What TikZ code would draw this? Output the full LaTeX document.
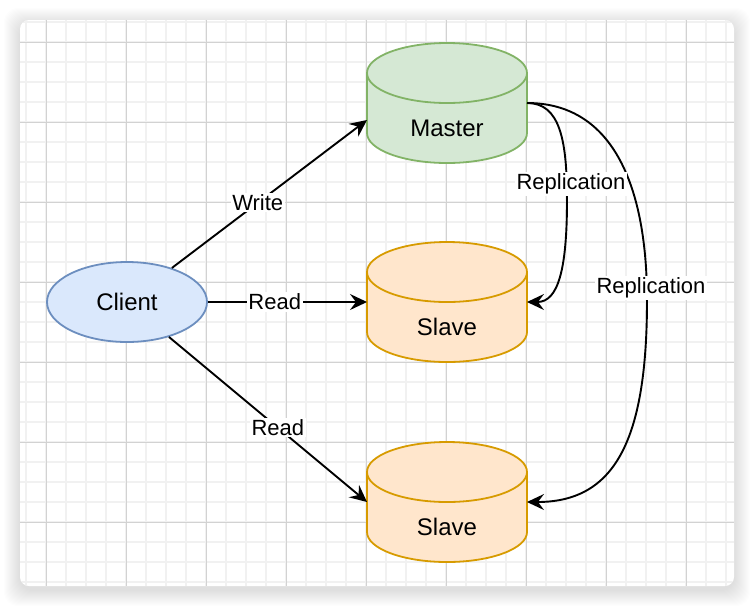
\documentclass[tikz,border=0pt]{standalone}
\usepackage{fontspec}
\setmainfont{Liberation Sans}
\usetikzlibrary{arrows.meta,shapes.geometric}
\definecolor{gridmajor}{HTML}{D2D2D2}
\definecolor{gridminor}{HTML}{F1F1F1}
\definecolor{masterfill}{HTML}{D5E8D4}
\definecolor{masterline}{HTML}{82B366}
\definecolor{slavefill}{HTML}{FFE6CC}
\definecolor{slaveline}{HTML}{D79B00}
\definecolor{clientfill}{HTML}{DAE8FC}
\definecolor{clientline}{HTML}{6C8EBF}
\newcommand\dbcyl[3]{%
  \filldraw[fill=#2, draw=#3, line width=1.8pt]
    ([yshift=-30pt]#1.north west) -- ([yshift=30pt]#1.south west)
    arc[start angle=180, end angle=360, x radius=80pt, y radius=30pt]
    -- ([yshift=-30pt]#1.north east)
    arc[start angle=0, end angle=180, x radius=80pt, y radius=30pt] -- cycle;
  \draw[draw=#3, line width=1.8pt] ([yshift=-30pt]#1.north west)
    arc[start angle=180, end angle=360, x radius=80pt, y radius=30pt];
}
\tikzset{
  cylbox/.style={rectangle, minimum width=160pt, minimum height=120pt, inner sep=0pt, outer sep=0pt},
  nodetext/.style={font=\fontsize{24}{28}\selectfont, inner sep=0pt},
  edge/.style={line width=1.9pt, -{Stealth[length=17pt,width=16pt,inset=6pt]}},
  lbl/.style={fill=white, inner sep=1.5pt, font=\fontsize{22}{26}\selectfont},
}
\begin{document}
\begin{tikzpicture}[x=1pt,y=-1pt]
\useasboundingbox (0,0) rectangle (754,606);
\fill[white] (0,0) rectangle (754,606);
% shadow
\foreach \i in {1,...,16}{
  \fill[black, opacity=0.008, rounded corners=14pt] ({20-\i},{24-\i}) rectangle ({734+\i},{590+\i});
}
\fill[white, rounded corners=9pt] (20,20) rectangle (734,586);
% grid
\begin{scope}
\clip[rounded corners=9pt] (20,20) rectangle (734,586);
\foreach \x in {26,46,...,726} \draw[gridminor, line width=1.6pt] (\x,20) -- (\x,586);
\foreach \y in {22,42,...,582} \draw[gridminor, line width=1.6pt] (20,\y) -- (734,\y);
\foreach \x in {46,126,...,686} \draw[gridmajor, line width=0.9pt] (\x,20) -- (\x,586);
\foreach \y in {42,122,...,522} \draw[gridmajor, line width=0.9pt] (20,\y) -- (734,\y);
\end{scope}
% nodes
\node[ellipse, draw=clientline, fill=clientfill, line width=1.8pt, minimum width=160pt, minimum height=80pt, inner sep=0pt, nodetext] (client) at (127,302) {Client};
\node[cylbox] (master) at (447,103) {};
\node[cylbox] (slaveA) at (447,302) {};
\node[cylbox] (slaveB) at (447,502) {};
\dbcyl{master}{masterfill}{masterline}
\dbcyl{slaveA}{slavefill}{slaveline}
\dbcyl{slaveB}{slavefill}{slaveline}
\node[nodetext] (masterText) at ([yshift=-25pt]master.center) {Master};
\node[nodetext] (slaveAText) at ([yshift=-25pt]slaveA.center) {Slave};
\node[nodetext] (slaveBText) at ([yshift=-25pt]slaveB.center) {Slave};
% edges
\draw[edge] (client) -- node[lbl, pos=0.44] (lWrite) {Write} ([yshift=-17pt]master.west);
\draw[edge] (client.east) -- node[lbl, pos=0.42] (lReadA) {Read} (slaveA.west);
\draw[edge] (client) -- node[lbl, pos=0.55] (lReadB) {Read} (slaveB.west);
\draw[edge] (master.east) .. controls (560,103) and (567,140) .. (567,200)
  .. controls (567,270) and (558,302) .. (slaveA.east);
\draw[edge] (master.east) .. controls (615,103) and (647,190) .. (647,300)
  .. controls (647,440) and (615,502) .. (slaveB.east);
\node[lbl] (lRepA) at (571,184) {Replication};
\node[lbl] (lRepB) at (651,288) {Replication};
\end{tikzpicture}
\end{document}
